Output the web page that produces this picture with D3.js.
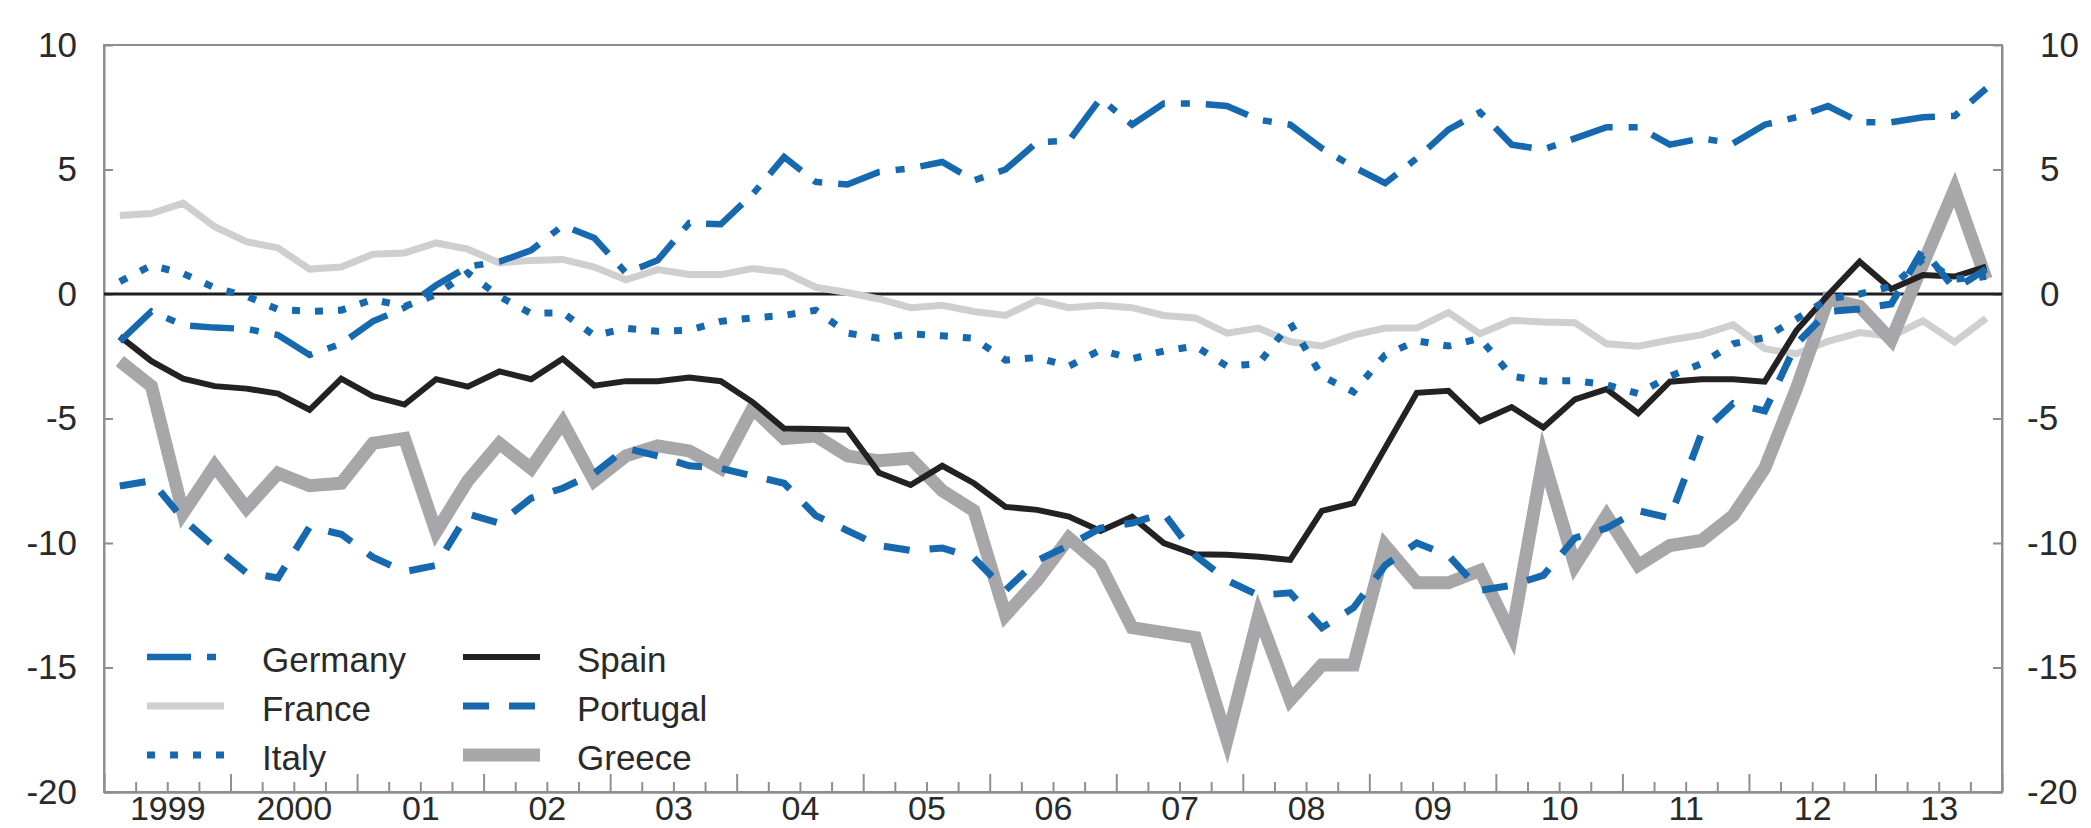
<!DOCTYPE html>
<html>
<head>
<meta charset="utf-8">
<script src="https://cdn.jsdelivr.net/npm/d3@7"></script>
<style>
  html, body { margin: 0; padding: 0; background: #ffffff; }
  svg { display: block; }
  text { font-family: "Liberation Sans", Arial, Helvetica, sans-serif; fill: #2a2a2a; }
</style>
</head>
<body>
<svg id="chart" width="2091" height="828"></svg>
<script>
// ---------------- data (quarterly, 1999 Q1 – 2013 Q4) ----------------
const years = [1999, 2000, 2001, 2002, 2003, 2004, 2005, 2006, 2007, 2008, 2009, 2010, 2011, 2012, 2013];
const yearLabels = ["1999", "2000", "01", "02", "03", "04", "05", "06", "07", "08", "09", "10", "11", "12", "13"];
const quarters = years.flatMap(yr => [1, 2, 3, 4].map(q => ({ year: yr, q })));
const yTicks = [-20, -15, -10, -5, 0, 5, 10];

const germany = [-1.9,-0.7,-1.25,-1.35,-1.4,-1.65,-2.45,-2.0,-1.1,-0.55,0.35,1.1,1.3,1.75,2.75,2.25,0.85,1.35,2.85,2.8,
  4.0,5.5,4.5,4.4,4.9,5.05,5.3,4.56,5.0,6.1,6.15,7.85,6.8,7.65,7.65,7.55,7.0,6.8,5.85,5.1,
  4.45,5.45,6.6,7.3,6.0,5.8,6.25,6.7,6.7,6.0,6.25,6.05,6.8,7.1,7.55,6.9,6.9,7.1,7.15,8.25];
const france = [3.15,3.23,3.65,2.7,2.1,1.85,1.0,1.08,1.6,1.65,2.05,1.8,1.25,1.35,1.39,1.08,0.57,0.98,0.78,0.78,
  1.02,0.88,0.27,0.06,-0.2,-0.55,-0.45,-0.7,-0.86,-0.25,-0.55,-0.45,-0.55,-0.86,-0.96,-1.57,-1.37,-1.92,-2.09,-1.65,
  -1.37,-1.37,-0.74,-1.6,-1.06,-1.12,-1.15,-2.0,-2.1,-1.85,-1.64,-1.23,-2.2,-2.4,-1.9,-1.55,-1.7,-1.08,-1.93,-0.98];
const italy = [0.5,1.15,0.82,0.25,-0.08,-0.62,-0.7,-0.65,-0.22,-0.5,-0.02,0.85,-0.1,-0.78,-0.75,-1.67,-1.38,-1.5,-1.45,-1.1,
  -0.96,-0.86,-0.65,-1.57,-1.78,-1.6,-1.68,-1.78,-2.66,-2.55,-2.9,-2.25,-2.6,-2.29,-2.09,-2.9,-2.8,-1.17,-3.3,-3.93,
  -2.45,-1.88,-2.09,-1.78,-3.3,-3.5,-3.48,-3.65,-4.0,-3.3,-2.8,-2.0,-1.75,-1.0,-0.2,0.0,0.3,1.4,0.6,0.7];
const spain = [-1.7,-2.7,-3.4,-3.7,-3.8,-4.0,-4.65,-3.4,-4.1,-4.44,-3.42,-3.72,-3.11,-3.42,-2.6,-3.68,-3.5,-3.5,-3.35,-3.5,
  -4.34,-5.4,-5.42,-5.45,-7.18,-7.67,-6.9,-7.6,-8.55,-8.67,-8.94,-9.52,-8.95,-10.0,-10.45,-10.47,-10.55,-10.68,-8.71,-8.4,
  -6.18,-3.97,-3.89,-5.11,-4.54,-5.36,-4.23,-3.82,-4.79,-3.52,-3.42,-3.42,-3.52,-1.47,-0.04,1.3,0.2,0.76,0.7,1.1];
const portugal = [-7.71,-7.5,-9.04,-10.16,-11.19,-11.4,-9.35,-9.65,-10.57,-11.15,-10.9,-8.83,-9.2,-8.2,-7.8,-7.2,-6.2,-6.5,-6.9,-7.0,
  -7.3,-7.6,-8.9,-9.5,-10.1,-10.3,-10.2,-10.6,-11.9,-10.7,-10.1,-9.4,-9.2,-8.8,-10.5,-11.5,-12.1,-12.0,-13.4,-12.6,
  -10.9,-10.0,-10.5,-11.9,-11.7,-11.3,-9.8,-9.4,-8.7,-9.0,-5.6,-4.4,-4.7,-2.0,-0.7,-0.6,-0.4,1.8,0.2,1.0];
const greece = [-2.7,-3.7,-8.8,-6.9,-8.6,-7.2,-7.7,-7.6,-6.0,-5.8,-9.55,-7.5,-6.0,-7.0,-5.15,-7.5,-6.5,-6.1,-6.3,-7.0,
  -4.6,-5.8,-5.7,-6.5,-6.7,-6.6,-7.9,-8.7,-12.9,-11.5,-9.8,-10.9,-13.4,-13.6,-13.8,-17.9,-12.9,-16.3,-14.9,-14.9,
  -10.1,-11.6,-11.6,-11.1,-13.7,-6.6,-10.9,-8.9,-10.9,-10.1,-9.9,-8.9,-7.0,-3.8,-0.2,-0.5,-1.85,1.2,4.2,0.6];

const seriesNames = ["Germany", "France", "Italy", "Spain", "Portugal", "Greece"];
const seriesValues = [germany, france, italy, spain, portugal, greece];

// ---------------- styles ----------------
const BLUE = "#1669ae";
const styles = {
  Germany:  { color: BLUE,      width: 6.5, dash: "44,16,9,16" },
  France:   { color: "#cfcfcf", width: 7,   dash: null },
  Italy:    { color: BLUE,      width: 7,   dash: "8,15" },
  Spain:    { color: "#242122", width: 6,   dash: null },
  Portugal: { color: BLUE,      width: 7,   dash: "26,20" },
  Greece:   { color: "#a7a7a9", width: 13,  dash: null }
};
const drawOrder = ["France", "Greece", "Spain", "Portugal", "Italy", "Germany"];

// ---------------- layout ----------------
const svg = d3.select("#chart");
const L = 104, R = 2002, T = 45, B = 792;
const FS = 35;

const x = d3.scaleLinear().domain([1999, 2014]).range([L, R]);
const y = d3.scaleLinear().domain([-20, 10]).range([B, T]);
const qx = (d) => x(d.year + (d.q - 0.5) / 4);

const fmt = d => (d < 0 ? "-" + Math.abs(d) : String(d));

// frame
svg.append("rect")
  .attr("x", L).attr("y", T).attr("width", R - L).attr("height", B - T)
  .attr("fill", "none").attr("stroke", "#8e8e8e").attr("stroke-width", 2);

// left axis
const gl = svg.append("g").attr("transform", `translate(${L},0)`)
  .call(d3.axisLeft(y).tickValues(yTicks).tickSize(-9).tickSizeOuter(0).tickPadding(27).tickFormat(fmt));
// right axis
const gr = svg.append("g").attr("transform", `translate(${R},0)`)
  .call(d3.axisRight(y).tickValues(yTicks).tickSize(-9).tickSizeOuter(0).tickPadding(38).tickFormat(fmt));
gr.selectAll(".tick text").attr("dx", d => (d < 0 ? "-13px" : 0));

// bottom axis: quarterly minor ticks, yearly major ticks, year labels at mid-year
const quarterStarts = quarters.map(d => d.year + (d.q - 1) / 4).filter(v => v % 1 !== 0);
const yearStarts = years.concat([2014]);
const gbMinor = svg.append("g").attr("transform", `translate(0,${B})`)
  .call(d3.axisBottom(x).tickValues(quarterStarts).tickSize(-10).tickSizeOuter(0).tickFormat(""));
const gbMajor = svg.append("g").attr("transform", `translate(0,${B})`)
  .call(d3.axisBottom(x).tickValues(yearStarts).tickSize(-18).tickSizeOuter(0).tickFormat(""));
const gbLab = svg.append("g").attr("transform", `translate(0,${B})`)
  .call(d3.axisBottom(x).tickValues(years.map(v => v + 0.5)).tickSize(0).tickSizeOuter(0).tickPadding(4)
    .tickFormat((d, i) => yearLabels[i]));

[gl, gr, gbMinor, gbMajor, gbLab].forEach(g => {
  g.select(".domain").attr("stroke", "#8e8e8e").attr("stroke-width", 2);
  g.selectAll(".tick line").attr("stroke", "#8e8e8e").attr("stroke-width", 2);
  g.selectAll(".tick text").style("font-size", FS + "px").attr("fill", "#2a2a2a")
    .style("font-family", '"Liberation Sans", Arial, sans-serif');
});
gbLab.selectAll(".tick text").style("font-size", "34px");
gbLab.select(".domain").remove();
gbLab.selectAll(".tick line").remove();

// clip for lines
svg.append("clipPath").attr("id", "plotclip")
  .append("rect").attr("x", L + 1).attr("y", T + 1).attr("width", R - L - 2).attr("height", B - T - 2);

// zero line
svg.append("line")
  .attr("x1", L).attr("x2", R).attr("y1", y(0)).attr("y2", y(0))
  .attr("stroke", "#1e1e1e").attr("stroke-width", 3);

// series lines
const line = d3.line().x((v, i) => qx(quarters[i])).y(v => y(v));
const plot = svg.append("g").attr("clip-path", "url(#plotclip)");
drawOrder.forEach(name => {
  const vals = seriesValues[seriesNames.indexOf(name)];
  const st = styles[name];
  plot.append("path")
    .datum(vals)
    .attr("d", line)
    .attr("fill", "none")
    .attr("stroke", st.color)
    .attr("stroke-width", st.width)
    .attr("stroke-linejoin", "miter")
    .attr("stroke-miterlimit", 6)
    .attr("stroke-dasharray", st.dash);
});

// legend (two columns of three)
const legend = svg.append("g");
const legCols = [{ sx: 147, tx: 262 }, { sx: 463, tx: 577 }];
const legRows = [657, 706, 755];
seriesNames.forEach((name, k) => {
  const col = legCols[Math.floor(k / 3)], row = legRows[k % 3];
  const st = styles[name];
  legend.append("line")
    .attr("x1", col.sx).attr("x2", col.sx + 77)
    .attr("y1", row).attr("y2", row)
    .attr("stroke", st.color).attr("stroke-width", st.width)
    .attr("stroke-dasharray", st.dash);
  legend.append("text")
    .attr("x", col.tx).attr("y", row + 15)
    .style("font-size", FS + "px")
    .text(name);
});
</script>
</body>
</html>
